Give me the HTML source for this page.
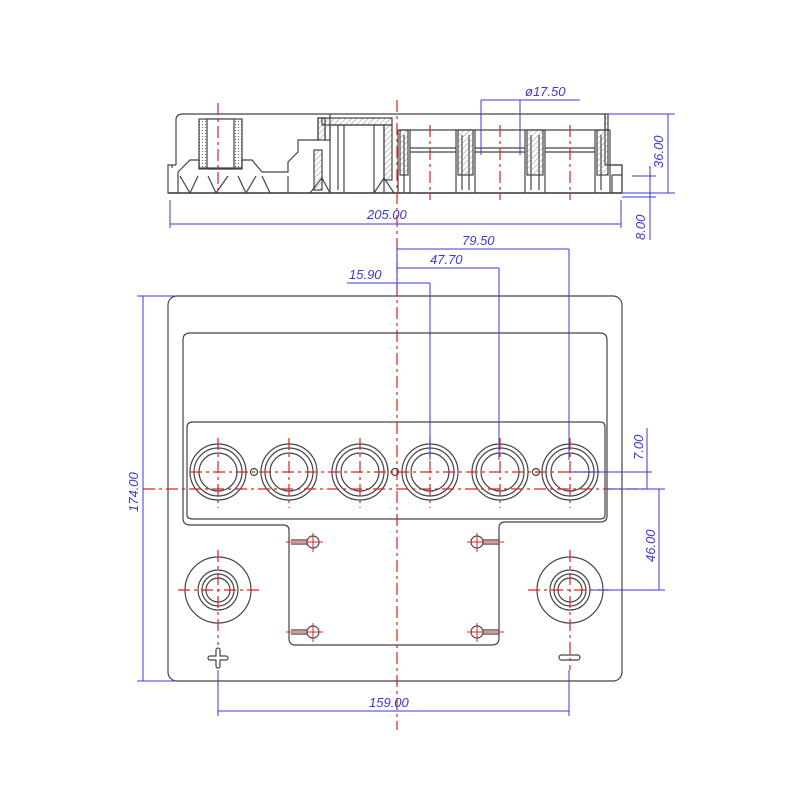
<!DOCTYPE html>
<html><head><meta charset="utf-8"><style>
html,body{margin:0;padding:0;background:#fff;}
svg{display:block;}
text{font-family:"Liberation Sans",sans-serif;font-style:italic;fill:#3a3ad8;font-size:13px;}
</style></head><body>
<svg width="800" height="800" viewBox="0 0 800 800" xmlns="http://www.w3.org/2000/svg">
<defs>
<pattern id="h" width="4" height="4" patternUnits="userSpaceOnUse" patternTransform="rotate(45)"><line x1="0" y1="0" x2="0" y2="4" stroke="#777" stroke-width="0.8"/></pattern>
<pattern id="d" width="3" height="3" patternUnits="userSpaceOnUse"><circle cx="1.5" cy="1.5" r="0.6" fill="#666"/></pattern>
</defs>
<g fill="none" stroke="#444" stroke-width="1.2">
<!-- SIDE VIEW -->
<path d="M183,114 H605 V165 H622 V193 H168 V165 H172 V168 M168,165 H176 M183,114 Q176,114 176,120 V165"/>
<line x1="168" y1="193" x2="622" y2="193" stroke-width="1.6"/>
<rect x="199" y="119" width="43" height="50" fill="url(#d)"/>
<rect x="207" y="119" width="27" height="50" fill="#fff"/>
<path d="M178,172 L190,160 H199 V168 H242 V160 H252 L262,172 H288 V162 L298,152 V140 H318 V118 H325 V140 H330 V114"/>
<path d="M178,172 V193 M180,176 L190,193 L198,176 M208,176 L216,193 L228,176 M238,176 L246,193 L256,176 M262,176 L270,193 M288,176 V193"/>
<rect x="318" y="118" width="7" height="22" fill="url(#h)"/>
<path d="M330,125 V193 M338,125 V190 M344,125 V193 M374,125 V193 M384,125 V193 M330,125 H384 M310,193 L322,178 L330,193 M374,193 L384,178 L394,193"/>
<rect x="322" y="118" width="70" height="7" fill="url(#h)"/>
<rect x="384" y="125" width="8" height="55" fill="url(#h)"/>
<rect x="314" y="150" width="8" height="40" fill="url(#h)"/>
<g>
<path d="M398,130 H410 V193 M398,130 V193 M404,135 V193"/>
<rect x="400" y="130" width="8" height="45" fill="url(#h)"/>
<path d="M410,130 H456 M410,148 H456 M410,152 H456"/>
<path d="M456,130 H475 M456,130 V193 M475,130 V193 M462,135 V190 M469,135 V190"/>
<rect x="458" y="130" width="15" height="45" fill="url(#h)"/>
<path d="M475,130 H525 M475,148 H525 M475,152 H525"/>
<path d="M525,130 H545 M525,130 V193 M545,130 V193 M531,135 V190 M539,135 V190"/>
<rect x="527" y="130" width="16" height="45" fill="url(#h)"/>
<path d="M545,130 H595 M545,148 H595 M545,152 H595"/>
<path d="M595,130 H610 M595,130 V193 M610,130 V193 M601,135 V190"/>
<rect x="597" y="130" width="11" height="45" fill="url(#h)"/>
<rect x="605" y="114" width="3" height="16" fill="url(#h)"/>
<path d="M610,165 H622 V193 M612,175 H622 M612,175 V193"/>
</g>
</g>
<g stroke="#e02020" stroke-width="1.2" stroke-dasharray="12,4,3,4" fill="none">
<line x1="218" y1="103" x2="218" y2="190"/>
<line x1="397" y1="100" x2="397" y2="730"/>
<line x1="430" y1="125" x2="430" y2="200"/>
<line x1="500" y1="125" x2="500" y2="200"/>
<line x1="570" y1="125" x2="570" y2="200"/>
</g>
<g stroke="#3a3ad8" stroke-width="1" fill="none">
<path d="M170,200 V228 M621,200 V228 M170,224 H621"/>
<path d="M481,100 V155 M520,100 V155 M481,100 H580"/>
<path d="M607,114 H675 M622,193 H675 M668,114 V193"/>
<path d="M632,176 H656 M650,166 V240 M622,197 H656"/>
</g>
<text x="367" y="219" font-size="14">205.00</text>
<text x="525" y="96" font-size="13">ø17.50</text>
<text transform="translate(663,168) rotate(-90)" font-size="14">36.00</text>
<text transform="translate(645,240) rotate(-90)" font-size="14">8.00</text>

<!-- TOP VIEW -->
<g fill="none" stroke="#444" stroke-width="1.2">
<rect x="168" y="296" width="454" height="385" rx="9"/>
<path d="M190,333 H600 Q607,333 607,340 V516 Q607,522 600,522 H505 Q499,522 499,528 V638 Q499,645 492,645 H295 Q289,645 289,638 V530 Q289,525 283,525 H190 Q183,525 183,518 V340 Q183,333 190,333 Z"/>
<path d="M193,422 H600 Q605,422 605,427 V515 Q605,519 600,519 H193 Q187,519 187,515 V427 Q187,422 193,422 Z"/>
<g>
<circle cx="218" cy="472" r="28"/><circle cx="218" cy="472" r="24"/><circle cx="218" cy="472" r="19"/>
<circle cx="289" cy="472" r="28"/><circle cx="289" cy="472" r="24"/><circle cx="289" cy="472" r="19"/>
<circle cx="360" cy="472" r="28"/><circle cx="360" cy="472" r="24"/><circle cx="360" cy="472" r="19"/>
<circle cx="430" cy="472" r="28"/><circle cx="430" cy="472" r="24"/><circle cx="430" cy="472" r="19"/>
<circle cx="500" cy="472" r="28"/><circle cx="500" cy="472" r="24"/><circle cx="500" cy="472" r="19"/>
<circle cx="570" cy="472" r="28"/><circle cx="570" cy="472" r="24"/><circle cx="570" cy="472" r="19"/>
<circle cx="254" cy="472" r="3.5"/><circle cx="395" cy="472" r="3.5"/><circle cx="536" cy="472" r="3.5"/>
</g>
<circle cx="218" cy="590" r="33"/><circle cx="218" cy="590" r="20"/><circle cx="218" cy="590" r="16"/><circle cx="218" cy="590" r="12"/>
<circle cx="570" cy="590" r="33"/><circle cx="570" cy="590" r="20"/><circle cx="570" cy="590" r="16"/><circle cx="570" cy="590" r="12"/>
<path d="M291,540 H307 M291,544 H307"/><circle cx="313" cy="542" r="6"/>
<path d="M291,630 H307 M291,634 H307"/><circle cx="313" cy="632" r="6"/>
<path d="M483,540 H499 M483,544 H499"/><circle cx="477" cy="542" r="6"/>
<path d="M483,630 H499 M483,634 H499"/><circle cx="477" cy="632" r="6"/>
<path d="M216,650 a2,2 0 0 1 4,0 v6 h6 a2,2 0 0 1 0,4 h-6 v6 a2,2 0 0 1 -4,0 v-6 h-6 a2,2 0 0 1 0,-4 h6 z"/>
<rect x="559" y="655" width="21" height="5" rx="2.5"/>
</g>
<g stroke="#e02020" stroke-width="1.2" stroke-dasharray="12,4,3,4" fill="none">
<line x1="190" y1="472" x2="605" y2="472"/>
<line x1="143" y1="489" x2="650" y2="489"/>
<line x1="218" y1="438" x2="218" y2="508"/><line x1="289" y1="438" x2="289" y2="508"/>
<line x1="360" y1="438" x2="360" y2="508"/><line x1="430" y1="438" x2="430" y2="508"/>
<line x1="500" y1="438" x2="500" y2="508"/><line x1="570" y1="438" x2="570" y2="508"/>
<line x1="218" y1="550" x2="218" y2="645"/><line x1="178" y1="590" x2="260" y2="590"/>
<line x1="570" y1="550" x2="570" y2="670"/><line x1="528" y1="590" x2="612" y2="590"/>
</g>
<g stroke="#e02020" stroke-width="1" fill="none">
<path d="M286,542 H323 M313,533 V552 M286,632 H323 M313,623 V642 M467,542 H504 M477,533 V552 M467,632 H504 M477,623 V642"/>
</g>
<g stroke="#3a3ad8" stroke-width="1" fill="none">
<path d="M143,296 V681 M137,296 H175 M137,681 H175"/>
<path d="M218,670 V716 M569,670 V716 M218,711 H569"/>
<path d="M397,247 V290 M397,249 H569 M569,249 V460 M397,268 H499 M499,268 V460 M347,283 H430 M430,283 V460"/>
<path d="M570,472 H652 M647,428 V489 M607,489 H665 M659,489 V590 M590,590 H665"/>
</g>
<text transform="translate(138,512) rotate(-90)" font-size="14">174.00</text>
<text x="369" y="707" font-size="14">159.00</text>
<text x="462" y="245" font-size="14">79.50</text>
<text x="430" y="264" font-size="14">47.70</text>
<text x="349" y="279" font-size="14">15.90</text>
<text transform="translate(643,460) rotate(-90)" font-size="14">7.00</text>
<text transform="translate(655,562) rotate(-90)" font-size="14">46.00</text>
</svg>
</body></html>
